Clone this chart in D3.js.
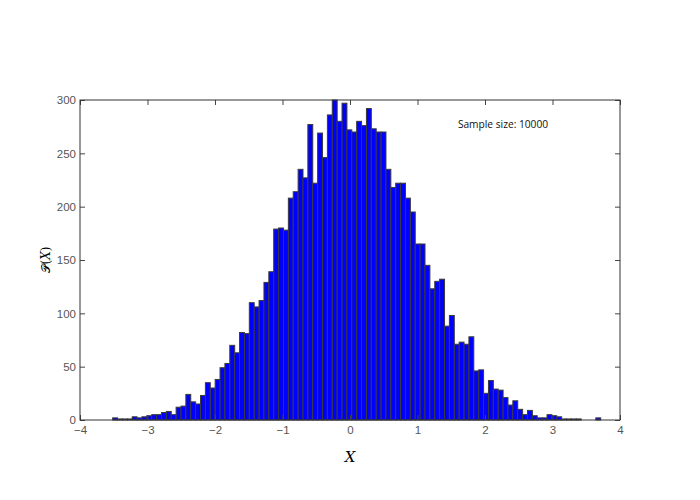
<!DOCTYPE html>
<html>
<head>
<meta charset="utf-8">
<script src="https://cdn.jsdelivr.net/npm/d3@7"></script>
<style>
    body { margin: 0; background: #fff; }
    svg { display: block; font-family: "Open Sans", sans-serif; }
</style>
</head>
<body>
<div id="chart"></div>
<script>
// Histogram of 10000 samples, 100 equal bins

const binStart = -3.516;
const binEnd = 3.714;
const counts = [
    2, 1, 1, 1, 3, 2, 3, 4, 5, 5,
    7, 8, 5, 12, 13, 24, 17, 15, 23, 35,
    30, 38, 49, 53, 70, 63, 82, 81, 110, 106,
    112, 129, 139, 179, 180, 178, 208, 214, 235, 227,
    277, 222, 269, 246, 286, 300, 280, 297, 272, 270,
    280, 276, 292, 273, 270, 270, 235, 218, 222, 222,
    208, 195, 165, 165, 145, 123, 130, 132, 88, 98,
    71, 73, 71, 78, 46, 47, 25, 37, 29, 28,
    21, 14, 18, 10, 5, 9, 4, 2, 2, 5,
    4, 3, 1, 1, 1, 1, 0, 0, 0, 2
];
const xTicks = [-4, -3, -2, -1, 0, 1, 2, 3, 4];
const yTicks = [0, 50, 100, 150, 200, 250, 300];
const annotation = 'Sample size: 10000';

const width = 700;
const height = 500;
const margin = [100, 80, 80, 80]; // top, right, bottom, left

const chartWidth = width - margin[1] - margin[3];
const chartHeight = height - margin[0] - margin[2];

const binWidth = (binEnd - binStart) / counts.length;
const bins = counts.map((c, i) => ({
    x0: binStart + i * binWidth,
    x1: binStart + (i + 1) * binWidth,
    v: c
}));

const svg = d3.select('#chart')
    .append('svg')
    .attr('width', width)
    .attr('height', height);

svg.append('rect')
    .attr('width', width)
    .attr('height', height)
    .attr('fill', '#fff');

const chart = svg.append('g')
    .attr('transform', `translate(${margin[3]}, ${margin[0]})`);

// Scales
const x = d3.scaleLinear().domain([-4, 4]).range([0, chartWidth]);
const y = d3.scaleLinear().domain([0, 300]).range([chartHeight, 0]);

// Bars
chart.append('g')
    .selectAll('rect')
    .data(bins)
    .join('rect')
    .attr('x', d => x(d.x0))
    .attr('width', d => x(d.x1) - x(d.x0))
    .attr('y', d => y(d.v))
    .attr('height', d => chartHeight - y(d.v))
    .attr('fill', '#0000ff')
    .attr('stroke', '#3a3a3a')
    .attr('stroke-width', 1);

// Axes, ticks pointing inwards on all four sides
const fmt = d => d < 0 ? '\u2212' + Math.abs(d) : String(d);

function styleAxis(g) {
    g.select('.domain').remove();
    g.selectAll('.tick line').attr('stroke', '#444');
    g.selectAll('.tick text')
        .attr('fill', '#555')
        .style('font-size', '11.5px');
}

chart.append('g')
    .attr('transform', `translate(0, ${chartHeight})`)
    .call(d3.axisBottom(x).tickValues(xTicks).tickFormat(fmt)
        .tickSizeInner(-5).tickSizeOuter(0).tickPadding(6))
    .call(styleAxis);

chart.append('g')
    .call(d3.axisTop(x).tickValues(xTicks).tickFormat('')
        .tickSizeInner(-5).tickSizeOuter(0))
    .call(styleAxis);

chart.append('g')
    .call(d3.axisLeft(y).tickValues(yTicks).tickFormat(fmt)
        .tickSizeInner(-5).tickSizeOuter(0).tickPadding(4))
    .call(styleAxis);

chart.append('g')
    .attr('transform', `translate(${chartWidth}, 0)`)
    .call(d3.axisRight(y).tickValues(yTicks).tickFormat('')
        .tickSizeInner(-5).tickSizeOuter(0))
    .call(styleAxis);

// Frame
chart.append('rect')
    .attr('width', chartWidth)
    .attr('height', chartHeight)
    .attr('fill', 'none')
    .attr('stroke', '#333')
    .attr('stroke-width', 1);

// Labels
svg.append('text')
    .attr('x', margin[3] + chartWidth / 2)
    .attr('y', 462)
    .attr('text-anchor', 'middle')
    .style('font-family', '"DejaVu Serif", serif')
    .style('font-style', 'italic')
    .style('font-size', '15px')
    .attr('fill', '#000')
    .text('X');

svg.append('text')
    .attr('transform', `translate(50, ${margin[0] + chartHeight / 2}) rotate(-90)`)
    .attr('text-anchor', 'middle')
    .style('font-family', '"DejaVu Serif", serif')
    .style('font-size', '12px')
    .attr('fill', '#000')
    .text('\u{1D4AB}(\u{1D44B})');

svg.append('text')
    .attr('x', 503)
    .attr('y', 128)
    .attr('text-anchor', 'middle')
    .style('font-size', '10.2px')
    .attr('fill', '#111')
    .text(annotation);
</script>
</body>
</html>
